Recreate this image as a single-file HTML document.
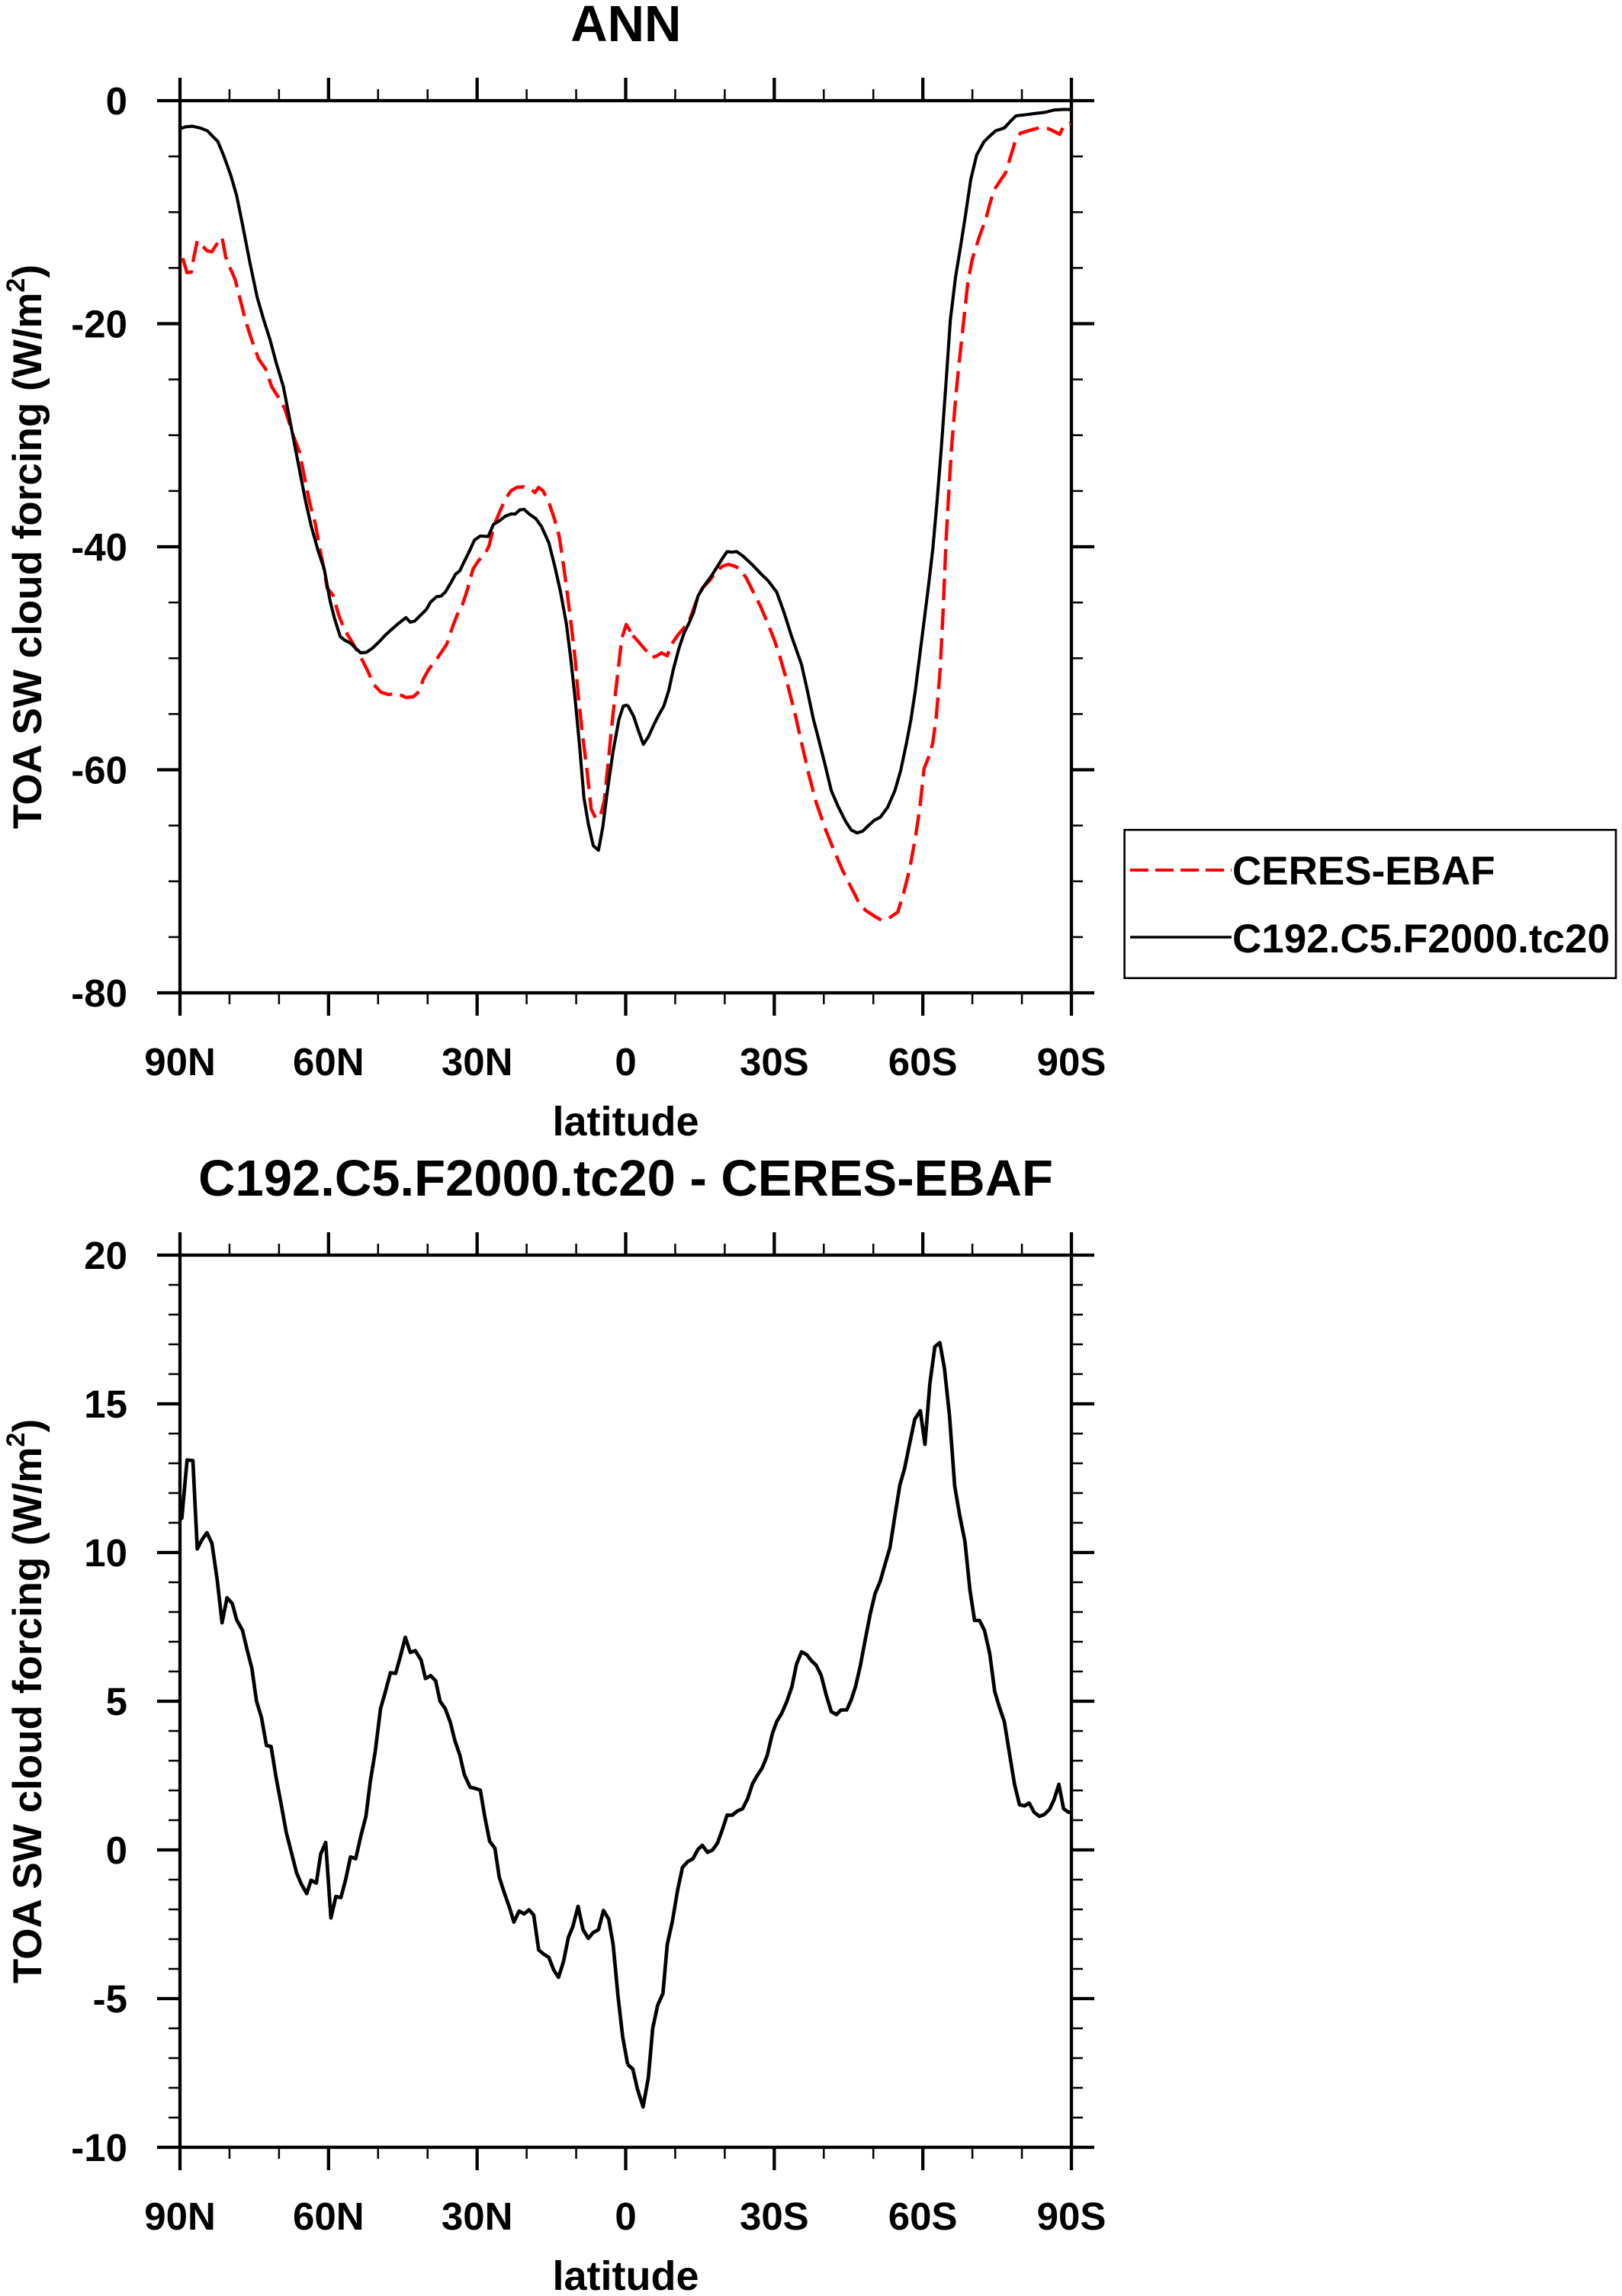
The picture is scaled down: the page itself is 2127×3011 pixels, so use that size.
<!DOCTYPE html>
<html><head><meta charset="utf-8"><style>
html,body{margin:0;padding:0;background:#fff;}
svg{display:block;}
text{font-family:"Liberation Sans",Arial,Helvetica,sans-serif;font-weight:bold;fill:#000;}
</style></head><body>
<svg width="2127" height="3011" viewBox="0 0 2127 3011" xmlns="http://www.w3.org/2000/svg">
<rect x="0" y="0" width="2127" height="3011" fill="#fff"/>

<!-- ===== TOP PLOT ===== -->
<g id="frameTop">
<text x="820.8" y="54" font-size="67" text-anchor="middle">ANN</text>
<rect x="236" y="132" width="1169" height="1170" fill="none" stroke="#000" stroke-width="4.3"/>
<path d="M236,132V102 M430.83,132V102 M625.67,132V102 M820.5,132V102 M1015.33,132V102 M1210.17,132V102 M1405,132V102
M236,1302V1332 M430.83,1302V1332 M625.67,1302V1332 M820.5,1302V1332 M1015.33,1302V1332 M1210.17,1302V1332 M1405,1302V1332
M236,132H206 M236,424.5H206 M236,717H206 M236,1009.5H206 M236,1302H206
M1405,132H1435 M1405,424.5H1435 M1405,717H1435 M1405,1009.5H1435 M1405,1302H1435" stroke="#000" stroke-width="4.3" fill="none"/>
<path d="M300.94,132V117 M365.89,132V117 M495.78,132V117 M560.72,132V117 M690.61,132V117 M755.56,132V117 M885.44,132V117 M950.39,132V117 M1080.28,132V117 M1145.22,132V117 M1275.11,132V117 M1340.06,132V117
M300.94,1302V1317 M365.89,1302V1317 M495.78,1302V1317 M560.72,1302V1317 M690.61,1302V1317 M755.56,1302V1317 M885.44,1302V1317 M950.39,1302V1317 M1080.28,1302V1317 M1145.22,1302V1317 M1275.11,1302V1317 M1340.06,1302V1317
M236,205.13H221 M236,278.25H221 M236,351.38H221 M236,497.63H221 M236,570.75H221 M236,643.88H221 M236,790.13H221 M236,863.25H221 M236,936.38H221 M236,1082.63H221 M236,1155.75H221 M236,1228.88H221
M1405,205.13H1420 M1405,278.25H1420 M1405,351.38H1420 M1405,497.63H1420 M1405,570.75H1420 M1405,643.88H1420 M1405,790.13H1420 M1405,863.25H1420 M1405,936.38H1420 M1405,1082.63H1420 M1405,1155.75H1420 M1405,1228.88H1420" stroke="#000" stroke-width="2.5" fill="none"/>
<g font-size="51" text-anchor="end">
<text x="167" y="150">0</text>
<text x="167" y="442.5">-20</text>
<text x="167" y="735">-40</text>
<text x="167" y="1027.5">-60</text>
<text x="167" y="1320">-80</text>
</g>
<g font-size="51" text-anchor="middle">
<text x="236" y="1410">90N</text>
<text x="430.83" y="1410">60N</text>
<text x="625.67" y="1410">30N</text>
<text x="820.5" y="1410">0</text>
<text x="1015.33" y="1410">30S</text>
<text x="1210.17" y="1410">60S</text>
<text x="1405" y="1410">90S</text>
</g>
<text x="820.5" y="1489" font-size="54" text-anchor="middle">latitude</text>
<text transform="translate(54,717) rotate(-90)" font-size="53" text-anchor="middle">TOA SW cloud forcing (W/m<tspan font-size="34" dy="-22">2</tspan><tspan dy="22">)</tspan></text>
</g>

<!-- top curves left half -->
<g transform="translate(230,120) scale(0.38265,0.75896)" fill="none" stroke-linejoin="round">
<path vector-effect="non-scaling-stroke" stroke="#ff0000" stroke-width="4.4" stroke-dasharray="28 11" d="M25,288 L40,313 55,312 62,290 75,258 90,265 108,275 125,277 140,265 160,252 172,285 185,302 205,325 220,355 240,395 260,427 285,462 310,480 330,510 355,530 375,548 390,572 405,596 425,622 440,660 460,710 480,748 495,790 508,822 520,858 540,870 560,905 580,930 610,955 640,982 660,1002 680,1025 705,1038 730,1042 760,1040 790,1047 815,1046 835,1037 850,1015 870,997 890,985 910,970 930,955 950,925 965,905 985,885 1000,862 1020,825 1040,810 1060,800 1075,785 1092,750 1110,728 1130,705 1150,690 1170,684 1195,683 1215,686 1232,693 1245,684 1260,690 1280,710 1300,740 1315,768 1325,800 1340,855 1355,915 1370,980 1380,1040 1395,1110 1410,1170 1425,1240 1440,1255 1455,1255 1470,1225 1485,1150 1500,1075 1515,1010 1530,945 1545,921 1568,940"/>
<path vector-effect="non-scaling-stroke" stroke="#000" stroke-width="4.1" d="M12,65 L35,61 58,60 85,63 110,68 125,76 145,86 165,110 190,145 210,180 230,230 255,295 280,355 300,390 325,430 345,468 370,510 395,575 420,640 445,705 465,750 490,795 510,825 530,880 545,910 565,942 580,948 600,953 620,963 635,970 655,969 675,962 700,950 720,939 740,930 760,921 780,913 790,909 805,917 820,915 840,905 860,895 875,882 895,873 910,872 925,865 945,848 960,834 975,828 990,812 1005,797 1025,775 1045,768 1072,769 1090,748 1110,742 1130,734 1150,730 1165,730 1180,723 1195,722 1215,731 1235,738 1255,752 1280,780 1300,820 1320,865 1340,920 1355,980 1370,1050 1385,1130 1400,1220 1415,1265 1432,1303 1450,1311 1465,1270 1480,1210 1500,1140 1520,1085 1535,1062 1550,1060"/>
</g>
<!-- top curves right half -->
<g transform="translate(810,120) scale(0.38265,0.75896)" fill="none" stroke-linejoin="round">
<path vector-effect="non-scaling-stroke" stroke="#ff0000" stroke-width="4.4" stroke-dasharray="28 11" d="M52,940 L70,950 90,962 105,970 118,978 135,975 150,970 170,975 185,955 205,940 225,928 245,915 270,880 290,858 315,845 340,828 360,820 380,817 400,820 420,825 440,840 465,865 490,890 515,920 535,945 555,975 575,1010 595,1050 610,1080 630,1125 655,1180 680,1228 710,1272 740,1310 770,1345 800,1375 825,1400 850,1415 880,1425 905,1432 925,1430 945,1423 960,1418 980,1385 1000,1345 1020,1290 1035,1240 1050,1170 1070,1145 1080,1125 1092,1080 1105,1000 1115,900 1125,780 1135,690 1145,610 1160,520 1170,470 1185,400 1200,330 1215,290 1240,250 1262,220 1275,195 1290,170 1310,155 1330,140 1345,115 1360,90 1380,72 1400,69 1420,66 1450,62 1475,64 1500,70 1515,74 1530,58 1552,55"/>
<path vector-effect="non-scaling-stroke" stroke="#000" stroke-width="4.1" d="M34,1060 L55,1080 70,1103 88,1128 105,1115 125,1093 140,1078 158,1062 175,1035 190,1000 210,962 228,935 245,918 260,900 275,872 295,855 320,838 340,822 360,806 375,795 390,796 408,795 430,803 460,817 490,833 515,845 545,865 570,900 595,940 630,990 650,1035 670,1083 690,1122 710,1162 732,1208 755,1235 780,1260 800,1276 820,1281 840,1278 860,1268 880,1259 900,1254 925,1237 950,1208 970,1173 990,1125 1005,1085 1020,1035 1035,975 1050,915 1065,855 1080,790 1095,705 1110,610 1125,505 1140,395 1158,320 1175,268 1190,220 1210,152 1230,110 1255,87 1275,77 1295,68 1325,63 1345,52 1365,42 1400,40 1430,38 1465,36 1495,32 1525,31 1552,31"/>
</g>

<!-- legend -->
<rect x="1474.6" y="1088.3" width="644.4" height="194.4" fill="#fff" stroke="#000" stroke-width="2.6"/>
<line x1="1482" y1="1141" x2="1615" y2="1141" stroke="#ff0000" stroke-width="4" stroke-dasharray="24 9"/>
<line x1="1482" y1="1229" x2="1615" y2="1229" stroke="#000" stroke-width="3.4"/>
<text x="1616" y="1160" font-size="53">CERES-EBAF</text>
<text x="1616" y="1249" font-size="53">C192.C5.F2000.tc20</text>

<!-- ===== BOTTOM PLOT ===== -->
<g transform="translate(0,1514)">
<text x="820.5" y="54" font-size="67" text-anchor="middle">C192.C5.F2000.tc20 - CERES-EBAF</text>
<rect x="236" y="132" width="1169" height="1170" fill="none" stroke="#000" stroke-width="4.3"/>
<path d="M236,132V102 M430.83,132V102 M625.67,132V102 M820.5,132V102 M1015.33,132V102 M1210.17,132V102 M1405,132V102
M236,1302V1332 M430.83,1302V1332 M625.67,1302V1332 M820.5,1302V1332 M1015.33,1302V1332 M1210.17,1302V1332 M1405,1302V1332
M236,132H206 M236,327H206 M236,522H206 M236,717H206 M236,912H206 M236,1107H206 M236,1302H206
M1405,132H1435 M1405,327H1435 M1405,522H1435 M1405,717H1435 M1405,912H1435 M1405,1107H1435 M1405,1302H1435" stroke="#000" stroke-width="4.3" fill="none"/>
<path d="M300.94,132V117 M365.89,132V117 M495.78,132V117 M560.72,132V117 M690.61,132V117 M755.56,132V117 M885.44,132V117 M950.39,132V117 M1080.28,132V117 M1145.22,132V117 M1275.11,132V117 M1340.06,132V117
M300.94,1302V1317 M365.89,1302V1317 M495.78,1302V1317 M560.72,1302V1317 M690.61,1302V1317 M755.56,1302V1317 M885.44,1302V1317 M950.39,1302V1317 M1080.28,1302V1317 M1145.22,1302V1317 M1275.11,1302V1317 M1340.06,1302V1317
M236,171H221 M236,210H221 M236,249H221 M236,288H221 M236,366H221 M236,405H221 M236,444H221 M236,483H221 M236,561H221 M236,600H221 M236,639H221 M236,678H221 M236,756H221 M236,795H221 M236,834H221 M236,873H221 M236,951H221 M236,990H221 M236,1029H221 M236,1068H221 M236,1146H221 M236,1185H221 M236,1224H221 M236,1263H221
M1405,171H1420 M1405,210H1420 M1405,249H1420 M1405,288H1420 M1405,366H1420 M1405,405H1420 M1405,444H1420 M1405,483H1420 M1405,561H1420 M1405,600H1420 M1405,639H1420 M1405,678H1420 M1405,756H1420 M1405,795H1420 M1405,834H1420 M1405,873H1420 M1405,951H1420 M1405,990H1420 M1405,1029H1420 M1405,1068H1420 M1405,1146H1420 M1405,1185H1420 M1405,1224H1420 M1405,1263H1420" stroke="#000" stroke-width="2.5" fill="none"/>
<g font-size="51" text-anchor="end">
<text x="167" y="150">20</text>
<text x="167" y="345">15</text>
<text x="167" y="540">10</text>
<text x="167" y="735">5</text>
<text x="167" y="930">0</text>
<text x="167" y="1125">-5</text>
<text x="167" y="1320">-10</text>
</g>
<g font-size="51" text-anchor="middle">
<text x="236" y="1410">90N</text>
<text x="430.83" y="1410">60N</text>
<text x="625.67" y="1410">30N</text>
<text x="820.5" y="1410">0</text>
<text x="1015.33" y="1410">30S</text>
<text x="1210.17" y="1410">60S</text>
<text x="1405" y="1410">90S</text>
</g>
<text x="820.5" y="1489" font-size="54" text-anchor="middle">latitude</text>
<text transform="translate(54,717) rotate(-90)" font-size="53" text-anchor="middle">TOA SW cloud forcing (W/m<tspan font-size="34" dy="-22">2</tspan><tspan dy="22">)</tspan></text>
</g>

<!-- bottom curve left half -->
<g transform="translate(230,1635) scale(0.38265,0.76214)" fill="none" stroke-linejoin="round">
<path vector-effect="non-scaling-stroke" stroke="#000" stroke-width="4.7" d="M14,470 L22,467 40,367 60,368 75,520 90,505 108,492 125,510 143,572 160,647 177,604 195,614 210,642 230,660 245,692 262,725 278,782 295,810 312,858 328,860 345,913 362,958 380,1008 398,1043 415,1077 432,1097 450,1113 465,1090 483,1095 498,1045 515,1025 533,1155 550,1118 567,1120 583,1090 600,1050 618,1053 635,1015 653,980 668,920 685,868 703,795 720,765 737,733 755,734 772,703 788,672 805,698 822,695 842,711 857,743 875,738 892,747 907,782 925,795 942,818 958,850 975,875 990,908 1010,930 1027,932 1045,935 1060,980 1077,1023 1095,1035 1110,1085 1128,1113 1145,1137 1160,1162 1178,1143 1195,1148 1212,1141 1228,1150 1245,1210 1262,1217 1280,1223 1297,1245 1313,1257 1330,1230 1347,1188 1362,1170 1380,1135 1397,1175 1415,1190 1432,1180 1450,1175 1467,1142 1485,1157 1500,1200 1517,1290 1533,1360 1550,1407"/>
</g>
<!-- bottom curve right half -->
<g transform="translate(810,1635) scale(0.38265,0.76214)" fill="none" stroke-linejoin="round">
<path vector-effect="non-scaling-stroke" stroke="#000" stroke-width="4.7" d="M34,1407 L52,1415 68,1450 87,1480 105,1430 120,1345 137,1305 155,1285 170,1200 187,1162 205,1108 222,1068 240,1058 258,1053 275,1037 290,1030 308,1042 325,1038 342,1026 358,1004 375,978 393,978 410,971 428,967 445,950 462,924 478,910 495,897 512,876 530,838 545,817 562,803 580,782 597,757 613,718 630,697 648,702 665,713 680,720 697,737 715,772 732,800 750,805 765,797 785,797 800,780 815,757 832,720 848,677 865,633 882,597 900,575 917,545 933,518 950,463 967,410 983,382 1000,340 1018,297 1037,282 1053,340 1070,235 1087,172 1104,165 1120,210 1137,290 1155,412 1172,462 1190,507 1207,590 1223,643 1240,643 1257,660 1275,700 1292,765 1308,792 1325,817 1342,870 1360,925 1377,960 1395,962 1410,957 1427,973 1445,980 1462,977 1480,968 1495,952 1512,925 1528,967 1545,973 1552,973"/>
</g>
</svg>
</body></html>
